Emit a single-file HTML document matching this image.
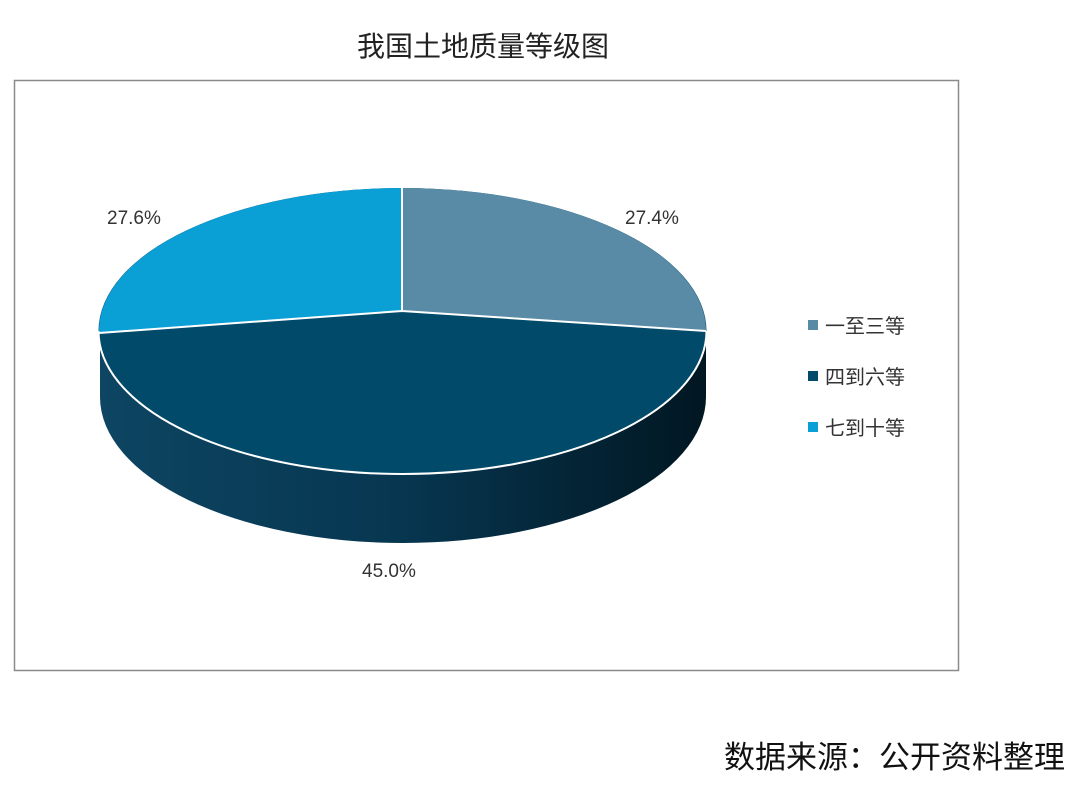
<!DOCTYPE html>
<html><head><meta charset="utf-8"><style>
body{margin:0;background:#fff;width:1080px;height:791px;overflow:hidden;font-family:"Liberation Sans","Noto Sans CJK SC",sans-serif;}
</style></head><body>
<svg width="1080" height="791" xmlns="http://www.w3.org/2000/svg">
<defs>
<linearGradient id="side" gradientUnits="userSpaceOnUse" x1="100" x2="706" y1="0" y2="0">
<stop offset="0" stop-color="#0d4562"/><stop offset="0.5" stop-color="#073650"/><stop offset="1" stop-color="#011722"/>
</linearGradient>
</defs>
<rect x="0" y="0" width="1080" height="791" fill="#fff"/>
<text x="483" y="56" font-size="28" text-anchor="middle" fill="#222" font-family="Liberation Sans,Noto Sans CJK SC,sans-serif">我国土地质量等级图</text>
<rect x="14.5" y="80.5" width="944" height="590" fill="none" stroke="#8a8a8a" stroke-width="1.5"/>
<!-- side wall -->
<rect x="100" y="331" width="606" height="66" fill="url(#side)"/>
<ellipse cx="403" cy="397" rx="303" ry="146" fill="url(#side)"/>
<!-- top -->
<ellipse cx="402.5" cy="331" rx="304" ry="143" fill="#014a6a"/>
<path d="M402,311 L402,188 A304,143 0 0 1 706,331 Z" fill="#5a8ba6"/>
<path d="M402,311 L99,333 A304,143 0 0 1 402,188 Z" fill="#0aa0d6"/>
<path d="M402,311 L402,188 M402,311 L706,331 M402,311 L99,333" stroke="#fff" stroke-width="2" fill="none"/>
<path d="M706.5,331 A304,143 0 0 1 98.5,331" stroke="#fff" stroke-width="2" fill="none"/>
<g font-size="19" fill="#333">
<text x="107" y="224">27.6%</text>
<text x="625" y="224">27.4%</text>
<text x="362" y="577">45.0%</text>
</g>
<rect x="808" y="320" width="10" height="10" fill="#5a8ba6"/>
<rect x="808" y="371" width="10" height="10" fill="#014a6a"/>
<rect x="808" y="422" width="10" height="10" fill="#0aa0d6"/>
<g font-size="20" fill="#333">
<text x="825" y="333">一至三等</text>
<text x="825" y="384">四到六等</text>
<text x="825" y="435">七到十等</text>
</g>
<text x="724" y="768" font-size="31" fill="#111">数据来源：公开资料整理</text>
</svg>
</body></html>
